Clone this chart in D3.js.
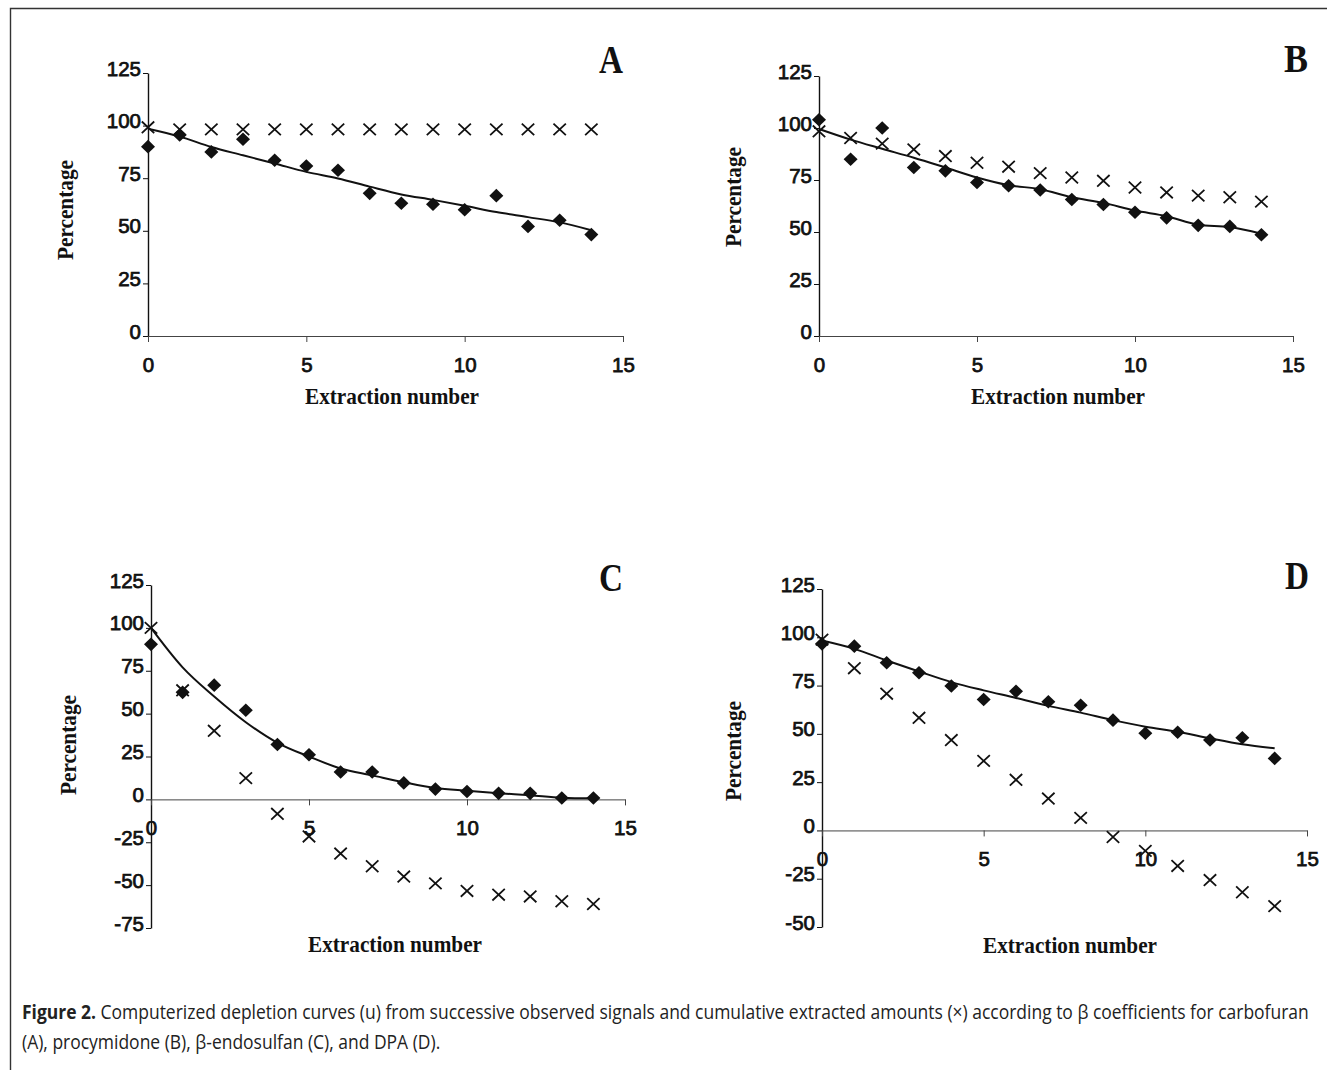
<!DOCTYPE html>
<html><head><meta charset="utf-8">
<script src="https://cdn.jsdelivr.net/npm/d3@7"></script>
<style>body{margin:0;background:#fff}</style>
</head><body>
<svg id="fig" width="1327" height="1070"></svg>
<script>
// ---------- data ----------
const extraction = [0,1,2,3,4,5,6,7,8,9,10,11,12,13,14];
const xTickValues = [0,5,10,15];
const yTicksAB = [0,25,50,75,100,125];
const yTicksC = [-75,-50,-25,0,25,50,75,100,125];
const yTicksD = [-50,-25,0,25,50,75,100,125];
const panelLetters = ["A","B","C","D"];
const xTitle = "Extraction number";
const yTitle = "Percentage";

// A: carbofuran
const aObserved   = [90, 95.5, 87.5, 93.5, 83.5, 80.8, 78.8, 67.8, 63.1, 62.6, 60, 66.7, 52.1, 55, 48.2];
const aCumulative = [99.2, 98.2, 98.2, 98.2, 98.2, 98.2, 98.2, 98.2, 98.2, 98.2, 98.2, 98.2, 98.2, 98.2, 98.2];
const aFitted     = [98.5, 94.8, 89.8, 85.9, 82, 78, 74.9, 71, 67.3, 64.7, 61.9, 58.9, 56.5, 54, 50.3];
// B: procymidone
const bObserved   = [104, 85, 100, 81, 79.4, 73.8, 72.2, 70.2, 65.6, 63.2, 59.5, 56.8, 53.2, 52.7, 48.7];
const bCumulative = [98.4, 95.2, 92.5, 89.7, 86.5, 83.3, 81.4, 78.3, 76.2, 74.6, 71.4, 69, 67.5, 66.7, 64.6];
const bFitted     = [99.5, 94.4, 90, 85.7, 81, 76.2, 72.5, 70.6, 66.7, 64, 60.3, 57.6, 53.5, 52.4, 49.2];
// C: beta-endosulfan
const cObserved   = [90.4, 62.4, 66.6, 52, 32, 26, 16, 16, 9.6, 6, 4.6, 3.5, 3.5, 0.8, 0.8];
const cCumulative = [100, 63.6, 40, 12.4, -8.4, -21.6, -31.6, -39, -45, -49, -53.4, -55.6, -56.6, -59.4, -61];
const cFitted     = [100, 77, 60, 45, 33, 25, 18, 14, 10, 6.6, 5, 3.6, 2.4, 1, 0.6];
// D: DPA
const dObserved   = [96.6, 95.4, 86.8, 81.6, 74.8, 67.8, 72, 66.6, 64.8, 57.1, 50.3, 50.8, 46.8, 48, 37.3];
const dCumulative = [98.8, 84, 70.8, 58.3, 46.8, 36, 26.2, 16.5, 6.5, -3.4, -10.6, -18.4, -25.7, -32, -39.2];
const dFitted     = [98.3, 94, 88, 82.3, 76.8, 72.5, 68.6, 64.5, 61, 57.1, 53.7, 51.1, 47.7, 44.6, 42.5];

const captionBold = "Figure 2.";
const captionRest = " Computerized depletion curves (u) from successive observed signals and cumulative extracted amounts (×) according to β coefficients for carbofuran";
const captionLine2 = "(A), procymidone (B), β-endosulfan (C), and DPA (D).";

// ---------- layout ----------
const panels = [
  {letter:panelLetters[0], obs:aObserved, cum:aCumulative, fit:aFitted, ticks:yTicksAB,
   x0:148, x1:623, yTopPx:73, yBotPx:336, yMin:0, letterX:611, letterY:73, titleX:392, titleY:404, pctX:65, pctY:210},
  {letter:panelLetters[1], obs:bObserved, cum:bCumulative, fit:bFitted, ticks:yTicksAB,
   x0:819, x1:1293, yTopPx:76, yBotPx:336, yMin:0, letterX:1296, letterY:72, titleX:1058, titleY:404, pctX:733, pctY:197},
  {letter:panelLetters[2], obs:cObserved, cum:cCumulative, fit:cFitted, ticks:yTicksC,
   x0:151, x1:625, yTopPx:585, yBotPx:928, yMin:-75, letterX:611, letterY:591, titleX:395, titleY:952, pctX:68, pctY:745},
  {letter:panelLetters[3], obs:dObserved, cum:dCumulative, fit:dFitted, ticks:yTicksD,
   x0:822, x1:1307, yTopPx:589, yBotPx:927, yMin:-50, letterX:1297, letterY:589, titleX:1070, titleY:953, pctX:733, pctY:751}
];

const svg = d3.select("#fig");
const ink = "#111";
const tickFont = "'Liberation Sans', Arial, sans-serif";

// border (left and top)
svg.append("path").attr("d","M10.5,1070 L10.5,8.5 L1327,8.5")
  .attr("fill","none").attr("stroke","#333").attr("stroke-width",1.4);

const diamond = "M0,-6.8L7,0L0,6.8L-7,0Z";
const cross = "M-6.2,-5.8L6.2,5.8M-6.2,5.8L6.2,-5.8";

panels.forEach(p => {
  const x = d3.scaleLinear().domain([0,15]).range([p.x0, p.x1]);
  const y = d3.scaleLinear().domain([p.yMin,125]).range([p.yBotPx, p.yTopPx]);
  const g = svg.append("g");

  // y axis
  const ya = g.append("g").attr("transform",`translate(${p.x0},0)`)
    .call(d3.axisLeft(y).tickValues(p.ticks).tickSize(5).tickSizeOuter(0).tickFormat(d => String(d)));
  ya.attr("font-size",null).attr("font-family",null);
  ya.select(".domain").attr("stroke",ink).attr("stroke-width",1.4);
  ya.selectAll(".tick line").attr("stroke",ink).attr("stroke-width",1);
  ya.selectAll(".tick text").attr("x",-7).attr("dy","0.1em")
    .attr("font-family",tickFont).attr("font-size",20.5)
    .attr("fill",ink).attr("stroke",ink).attr("stroke-width",0.75);

  // x axis at y = 0
  const xa = g.append("g").attr("transform",`translate(0,${y(0)})`)
    .call(d3.axisBottom(x).tickValues(xTickValues).tickSize(6).tickSizeOuter(0));
  xa.attr("font-size",null).attr("font-family",null);
  xa.select(".domain").attr("stroke","#444").attr("stroke-width",1);
  xa.selectAll(".tick line").attr("stroke","#444").attr("stroke-width",1);
  xa.selectAll(".tick text").attr("y",21).attr("dy","0.71em")
    .attr("font-family",tickFont).attr("font-size",20.5)
    .attr("fill",ink).attr("stroke",ink).attr("stroke-width",0.75);

  // fitted curve
  const line = d3.line().x((d,i)=>x(extraction[i])).y(d=>y(d)).curve(d3.curveMonotoneX);
  g.append("path").datum(p.fit).attr("d",line)
    .attr("fill","none").attr("stroke",ink).attr("stroke-width",2);

  // observed diamonds
  g.selectAll(".obs").data(p.obs).enter().append("path")
    .attr("transform",(d,i)=>`translate(${x(extraction[i])},${y(d)})`)
    .attr("d",diamond).attr("fill",ink);

  // cumulative crosses
  g.selectAll(".cum").data(p.cum).enter().append("path")
    .attr("transform",(d,i)=>`translate(${x(extraction[i])},${y(d)})`)
    .attr("d",cross).attr("fill","none").attr("stroke",ink).attr("stroke-width",1.8);

  // titles
  g.append("text").attr("x",p.titleX).attr("y",p.titleY).attr("text-anchor","middle")
    .attr("font-family","'Liberation Serif', 'Times New Roman', serif").attr("font-weight","bold")
    .attr("font-size",24).attr("fill",ink)
    .attr("textLength",174).attr("lengthAdjust","spacingAndGlyphs").text(xTitle);
  g.append("text").attr("transform",`translate(${p.pctX+8},${p.pctY}) rotate(-90)`)
    .attr("text-anchor","middle")
    .attr("font-family","'Liberation Serif', 'Times New Roman', serif").attr("font-weight","bold")
    .attr("font-size",24).attr("fill",ink)
    .attr("textLength",100).attr("lengthAdjust","spacingAndGlyphs").text(yTitle);
  g.append("text").attr("x",p.letterX).attr("y",p.letterY).attr("text-anchor","middle")
    .attr("font-family","'Liberation Serif', 'Times New Roman', serif").attr("font-weight","bold")
    .attr("font-size",40).attr("fill",ink)
    .attr("textLength",24).attr("lengthAdjust","spacingAndGlyphs").text(p.letter);
});

// caption
const cap = svg.append("g");
const capFont = "'Open Sans', Lato, sans-serif";
const t1 = cap.append("text").attr("x",0).attr("y",1019)
  .attr("font-family",capFont).attr("font-size",20).attr("fill","#222");
t1.append("tspan").attr("font-weight","bold").text(captionBold);
t1.append("tspan").text(captionRest);
cap.append("text").attr("x",0).attr("y",1049)
  .attr("font-family",capFont).attr("font-size",20).attr("fill","#222")
  .text(captionLine2);
const natural = t1.node().getComputedTextLength();
const sx = (1310 - 22) / natural;
cap.attr("transform",`translate(22,0) scale(${sx},1)`);
</script>
</body></html>
